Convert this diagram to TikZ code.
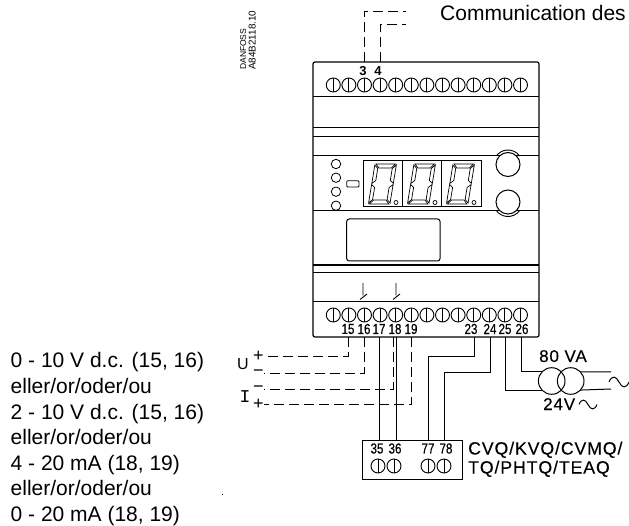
\documentclass[tikz,border=0pt]{standalone}
\usepackage{fontspec}
\setmainfont{Liberation Sans}
\newfontfamily\cadfont[LetterSpace=5,FakeBold=0.25]{Liberation Sans}
\newfontfamily\termfont[FakeStretch=0.8,FakeBold=0.4]{Liberation Sans}
\newfontfamily\monofont{Liberation Mono}
\tikzset{%
  wire/.style={line width=1pt},
  dashwire/.style={line width=.9pt,dash pattern=on 10pt off 5pt},
  screw/.style={draw,circle,line width=.9pt,minimum size=14pt,inner sep=0pt,outer sep=0pt},
  termlabel/.style={inner sep=0pt,font=\termfont\fontsize{14.5}{14.5}\selectfont},
  toplabel/.style={inner sep=0pt,font=\bfseries\fontsize{13}{13}\selectfont},
  cadlabel/.style={inner sep=0pt,anchor=base west,font=\cadfont\fontsize{17.7}{17.7}\selectfont},
  powerlabel/.style={cadlabel,font=\cadfont\fontsize{17}{17}\selectfont},
  plainlabel/.style={inner sep=0pt,font=\fontsize{21}{25.6}\selectfont},
  signlabel/.style={inner sep=0pt,font=\fontsize{18}{18}\selectfont},
  coil/.style={draw,circle,line width=1pt,minimum size=26.6pt,inner sep=0pt,outer sep=0pt},
  knob/.style={draw,circle,fill=white,line width=1pt,minimum size=24pt,inner sep=0pt,outer sep=0pt},
  lamp/.style={draw,circle,line width=.8pt,minimum size=9.4pt,inner sep=0pt},
  acwave/.pic={\draw[line width=1pt] (-10,0) .. controls (-7,-7) and (-3,-6) .. (0,0)%
    .. controls (3,6) and (7,7) .. (10,0);},
  digitzero/.pic={%
    \begin{scope}[xslant=.165,line width=.7pt]
      \draw (1,0) -- (20.5,0) -- (17,4) -- (4.5,4) -- cycle;
      \draw (1,40) -- (20.5,40) -- (17,36) -- (4.5,36) -- cycle;
      \foreach \sx/\sw in {0/1,21.5/-1}{%
        \draw (\sx,1) -- ++(3.5*\sw,3.5) -- ++(0,12) -- ++(-3.5*\sw,3) -- cycle;
        \draw (\sx,20.5) -- ++(3.5*\sw,3) -- ++(0,12) -- ++(-3.5*\sw,3.5) -- cycle;}
    \end{scope}}}
\newcommand{\screwat}[3]{\node[screw] (#3) at (#1,#2) {};
  \draw[line width=.9pt] (#3.north) -- (#3.south);}
\begin{document}
\begin{tikzpicture}[x=1pt,y=-1pt]
  \useasboundingbox (0,0) rectangle (629,526);
  % housing
  \node[draw,rounded corners=2pt,line width=1.2pt,minimum width=226pt,minimum height=275pt,%
    inner sep=0pt,outer sep=0pt] (device) at (426,199.5) {};
  \foreach \ly/\lw in {97/1,128/1,136/.8,156/1,211/1,265/1.8,272/.8,302/1}
    \draw[line width=\lw pt] (device.west |- 0,\ly) -- (device.east |- 0,\ly);
  % terminals
  \foreach \k in {0,...,12}{%
    \pgfmathsetmacro{\tx}{333.3+15.6*\k}
    \screwat{\tx}{85}{up\k}
    \screwat{\tx}{315}{lo\k}}
  \node[toplabel] (l3) at (363,71.5) {3};
  \node[toplabel] (l4) at (378,71.5) {4};
  \foreach \n/\x in {15/348,16/364,17/379,18/395,19/411,23/471,24/490,25/505,26/522}
    \node[termlabel] (l\n) at (\x,329) {\n};
  % display
  \node[draw,line width=1pt,minimum width=118pt,minimum height=46pt,inner sep=0pt,%
    outer sep=0pt] (display) at (422,184) {};
  \draw[line width=.9pt] (402.7,161) -- (402.7,207) (441.7,161) -- (441.7,207);
  \foreach \x in {375,414,453}{%
    \pic at (\x,164) {digitzero};
    \node[draw,circle,line width=.7pt,minimum size=4pt,inner sep=0pt] at (\x+21,202.5) {};}
  \foreach \y in {164,177.7,191.7,205.7}
    \node[lamp] at (336,\y) {};
  \draw[line width=.8pt,rounded corners=1pt] (346.7,180.7) rectangle (359,187);
  \draw[line width=1pt,rounded corners=2.5pt] (346.7,219) rectangle (440,261);
  \node[knob] (knoba) at (508,164.5) {};
  \node[knob] (knobb) at (508,202) {};
  \draw[line width=.9pt] ([shift={(36:14.5pt)}]knoba.center) arc[start angle=36,end angle=144,radius=14.5pt];
  \draw[line width=.9pt] ([shift={(-36:14.5pt)}]knobb.center) arc[start angle=-36,end angle=-144,radius=14.5pt];
  % relays
  \foreach \x in {363,396}
    \draw[line width=.9pt] (\x,283) -- (\x,295.5) (\x+4,294) -- (\x-3,299.5);
  % bus
  \coordinate (a3) at (364,62);
  \coordinate (a4) at (380,62);
  \coordinate (bus3) at (406,11);
  \coordinate (bus4) at (406,24);
  \draw[dashwire] (a3) |- (bus3);
  \draw[dashwire] (a4) |- (bus4);
  \node[plainlabel,anchor=base west] (comm) at (440,21) {Communication des};
  \node[inner sep=0pt,rotate=90,anchor=south west,align=left,%
    font=\fontsize{9.9}{9.5}\selectfont] (refno) at (256,70) {{\fontsize{8.5}{9.5}\selectfont DANFOSS}\\A84B2118.10};
  % input
  \node[signlabel] (uplus) at (258.5,356.5) {+};
  \node[signlabel] (uminus) at (258.5,373) {−};
  \node[signlabel] (iminus) at (258.5,389) {−};
  \node[signlabel] (iplus) at (258.5,404.5) {+};
  \node[inner sep=0pt,font=\fontsize{16}{16}\selectfont] (ulabel) at (243,364.5) {U};
  \node[inner sep=0pt,font=\monofont\fontsize{18}{18}\selectfont] (ilabel) at (245,397) {I};
  \foreach \n/\x in {15/348,16/364,17/379,18/393,19/411,23/474,24/490,25/505.5,26/521.7}
    \coordinate (a\n) at (\x,337);
  \coordinate (a36) at (396.7,337);
  \draw[dashwire] (a15) |- (uplus.east);
  \draw[dashwire] (a16) |- (uminus.east);
  \draw[dashwire] (a18) |- (iminus.east);
  \draw[dashwire] (a19) |- (iplus.east);
  % valve
  \node[draw,line width=1pt,minimum width=100pt,minimum height=39pt,inner sep=0pt,%
    outer sep=0pt] (valve) at (412,459.5) {};
  \foreach \n/\x in {35/377,36/395,77/428,78/446}
    \node[termlabel] (v\n) at (\x,448.5) {\n};
  \screwat{378}{466}{vs35}
  \screwat{394}{466}{vs36}
  \screwat{428}{466}{vs77}
  \screwat{444}{466}{vs78}
  \draw[wire] (a17) -- (a17 |- valve.north);
  \draw[wire] (a36) -- (a36 |- valve.north);
  \coordinate (b77) at (428,357);
  \coordinate (b78) at (444,373);
  \draw[wire] (a23) |- (b77) -- (b77 |- valve.north);
  \draw[wire] (a24) |- (b78) -- (b78 |- valve.north);
  \node[cadlabel] (typea) at (468,454.5) {CVQ/KVQ/CVMQ/};
  \node[cadlabel] (typeb) at (468,473.5) {TQ/PHTQ/TEAQ};
  % transformer
  \node[coil] (coila) at (551.7,381) {};
  \node[coil] (coilb) at (570.7,381) {};
  \coordinate (seca) at (611,372);
  \coordinate (secb) at (611,389);
  \draw[wire] (a26) |- (coila.137);
  \draw[wire] (a25) |- (coila.223);
  \draw[wire] (coilb.43) -- (seca);
  \draw[wire] (coilb.-43) -- (secb);
  \pic at (619,382) {acwave};
  \pic[scale=.9] at (588,404.5) {acwave};
  \node[powerlabel] (power) at (539,362) {80 VA};
  \node[powerlabel] (lowv) at (543,410) {24V};
  % ranges
  \node[plainlabel,align=left,anchor=west] (ranges) at (10.5,439.3) {0 - 10 V d.c. (15, 16)\\%
    eller/or/oder/ou\\2 - 10 V d.c. (15, 16)\\eller/or/oder/ou\\4 - 20 mA (18, 19)\\%
    eller/or/oder/ou\\0 - 20 mA (18, 19)};
  \fill (221.5,493.5) rectangle +(1.2,1);
\end{tikzpicture}
\end{document}
